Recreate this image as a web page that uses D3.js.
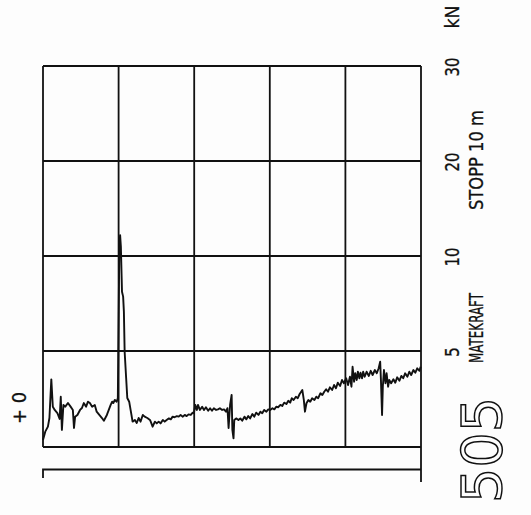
<!DOCTYPE html>
<html><head><meta charset="utf-8">
<script src="https://cdn.jsdelivr.net/npm/d3@7"></script>
<style>html,body{margin:0;padding:0;background:#fdfdfd;}</style>
</head><body>
<script>
// Depth (m) along the sounding
const depth = [0,0.06,0.13,0.17,0.22,0.26,0.31,0.38,0.44,0.47,0.50,0.54,0.59,0.66,0.73,0.79,0.82,0.85,0.91,0.98,1.03,1.08,1.14,1.19,1.24,1.30,1.37,1.42,1.49,1.56,1.61,1.69,1.74,1.79,1.83,1.86,1.90,1.95,1.98,
2.02,2.04,2.06,2.09,2.12,2.14,2.16,2.20,2.23,2.28,2.34,2.37,2.43,2.48,2.53,2.58,2.64,2.69,2.76,2.83,
2.85,2.90,2.96,3.01,3.06,3.11,3.17,3.22,3.27,3.33,3.38,3.43,3.48,3.54,3.59,3.64,3.70,3.75,3.80,3.85,3.91,3.96,3.99,
4.03,4.07,4.10,4.15,4.21,4.26,4.31,4.37,4.42,4.47,4.52,4.58,4.63,4.68,4.74,4.79,4.84,4.88,4.91,4.95,4.99,5.01,5.04,5.06,
5.11,5.17,5.22,5.27,5.33,5.38,5.43,5.48,5.54,5.59,5.64,5.70,5.75,5.80,5.85,5.91,5.96,6.01,6.07,6.12,6.17,6.22,6.28,6.33,6.38,6.44,6.49,6.54,6.58,6.63,6.69,6.74,6.79,6.83,6.86,6.90,6.93,6.97,
7.02,7.07,7.12,7.18,7.23,7.28,7.34,7.39,7.44,7.49,7.54,7.59,7.65,7.70,7.75,7.80,7.86,7.91,7.96,8.02,8.07,8.12,8.16,8.19,8.23,8.26,8.30,8.33,8.37,8.40,8.44,8.47,8.51,8.56,8.62,8.67,8.72,8.78,8.83,8.88,8.92,8.94,8.97,8.99,
9.02,9.06,9.09,9.13,9.16,9.21,9.27,9.32,9.37,9.43,9.48,9.53,9.58,9.64,9.69,9.74,9.80,9.85,9.90,9.96,9.99];
// Push force (kN)
const force = [0.36,0.80,1.06,1.51,3.52,2.10,1.93,1.77,1.46,2.62,0.89,2.19,2.10,2.29,2.10,1.93,0.99,1.58,1.67,1.93,2.03,2.29,2.10,2.36,2.29,2.10,2.19,1.84,1.67,1.51,1.37,1.67,1.93,2.19,2.36,2.29,2.45,2.36,2.55,
11.16,12.2,11.0,8.12,7.86,7.07,4.96,3.58,2.55,2.36,1.67,1.32,1.41,1.25,1.51,1.32,1.67,1.58,1.51,1.41,
1.32,1.06,1.32,1.23,1.32,1.23,1.41,1.32,1.41,1.49,1.44,1.58,1.55,1.61,1.58,1.67,1.58,1.67,1.61,1.70,1.67,1.79,1.76,
2.19,1.93,2.19,1.93,2.10,1.93,2.07,1.89,2.02,1.89,2.02,1.93,1.96,2.02,1.93,1.96,1.84,2.02,0.99,2.20,2.71,0.89,0.45,1.41,
1.49,1.41,1.49,1.37,1.58,1.44,1.61,1.49,1.72,1.58,1.79,1.67,1.84,1.76,1.93,1.84,1.96,1.93,2.02,1.96,2.10,2.07,2.19,2.14,2.31,2.24,2.41,2.31,2.54,2.45,2.62,2.54,2.76,2.88,2.97,2.45,1.84,2.28,
2.45,2.36,2.54,2.45,2.62,2.54,2.80,2.71,2.88,3.01,2.88,3.11,2.97,3.23,3.06,3.35,3.18,3.49,3.32,3.58,3.23,3.66,3.14,4.18,3.40,3.84,3.49,3.92,3.58,3.87,3.58,3.92,3.66,3.92,3.70,3.97,3.75,4.01,3.84,4.10,4.44,3.49,1.67,3.14,
4.01,3.32,3.84,3.14,3.49,3.32,3.53,3.35,3.63,3.45,3.70,3.58,3.84,3.66,3.92,3.75,4.01,3.87,4.10,3.97,4.18];
const depthGrid = [0,2,4,6,8,10];
const forceGrid = [0,5,10,20,30];
const forceTicks = [5,10,20,30];
const unitLabel = "kN";
const titleLabel = "MATEKRAFT";
const stopLabel = "STOPP 10 m";
const holeLabel = "505";
const startLabel = "+ 0";

const W = 531, H = 515;
const svg = d3.select("body").append("svg").attr("width", W).attr("height", H);
const x = d3.scaleLinear().domain([0,10]).range([43,421]);
const y = d3.scaleLinear().domain([0,5,10,20,30]).range([447,351,256,161,66]);
const ink = "#111";

// grid
svg.append("g").selectAll("line").data(depthGrid).join("line")
  .attr("x1", d => x(d)).attr("x2", d => x(d))
  .attr("y1", y(30)).attr("y2", y(0))
  .attr("stroke", ink).attr("stroke-width", 1.8);
svg.append("g").selectAll("line").data(forceGrid).join("line")
  .attr("x1", x(0)).attr("x2", x(10))
  .attr("y1", d => y(d)).attr("y2", d => y(d))
  .attr("stroke", ink).attr("stroke-width", 1.8);
// right border extended down + bracket
svg.append("line").attr("x1", x(10)).attr("x2", x(10)).attr("y1", y(0)).attr("y2", 482)
  .attr("stroke", ink).attr("stroke-width", 1.8);
svg.append("path").attr("d", `M${x(0)},478V469.5H${x(10)}`)
  .attr("fill","none").attr("stroke", ink).attr("stroke-width", 1.8);

// trace
const pts = depth.map((d,i) => [d, force[i]]);
svg.append("path").datum(pts)
  .attr("d", d3.line().x(d => x(d[0])).y(d => y(d[1])))
  .attr("fill","none").attr("stroke", ink).attr("stroke-width", 1.9).attr("stroke-linejoin","round");

function rtext(cx, cy, txt, size, len, opts={}) {
  const t = svg.append("text")
    .attr("transform", `translate(${cx},${cy}) rotate(-90)`)
    .attr("text-anchor","middle").attr("dominant-baseline","central")
    .attr("font-family","DejaVu Sans, sans-serif").attr("font-size", size)
    .text(txt);
  if (len) t.attr("textLength", len).attr("lengthAdjust","spacingAndGlyphs");
  if (opts.outline) t.attr("fill","none").attr("stroke", ink).attr("stroke-width", 1.5);
  else t.attr("fill", ink).attr("stroke", ink).attr("stroke-width", 0.3);
  return t;
}
forceTicks.forEach(v => rtext(452, y(v)+1, String(v), 19, v < 10 ? 10 : 19));
rtext(452, 17, unitLabel, 19, 23);
rtext(476, 328, titleLabel, 19, 70);
rtext(476, 160, stopLabel, 19, 100);
rtext(482, 450, holeLabel, 55, 106, {outline:true});
rtext(19, 408, startLabel, 19, 32);
</script>
</body></html>
